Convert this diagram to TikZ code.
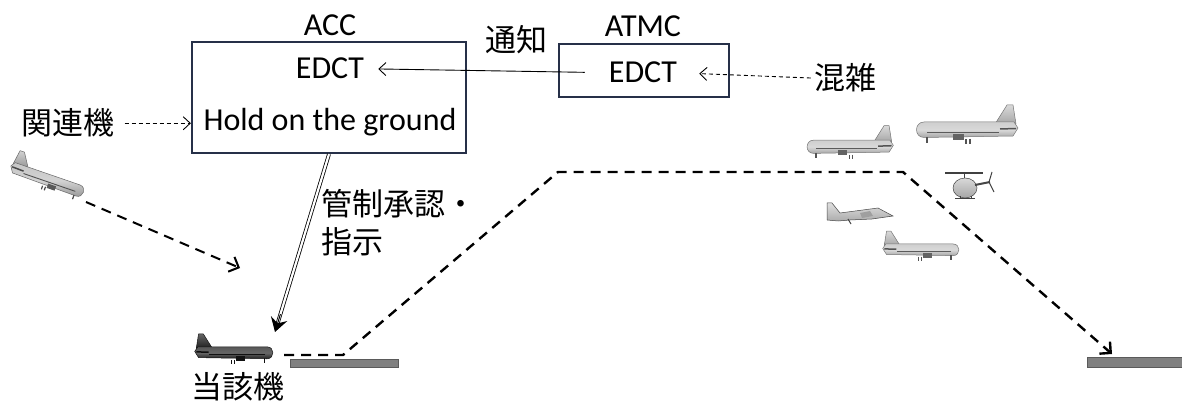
\documentclass[tikz,border=0pt]{standalone}
\usepackage{fontspec}
\setmainfont{Carlito}
\newfontfamily\jp{Noto Sans CJK JP}
\usetikzlibrary{arrows.meta,calc}
\definecolor{boxedge}{RGB}{38,48,72}
\definecolor{rwy}{RGB}{128,128,128}

\tikzset{
  lbl/.style={font=\fontsize{32}{36}\selectfont, inner sep=0pt, anchor=base},
  jlbl/.style={font=\jp\fontsize{31}{37}\selectfont, inner sep=0pt, anchor=base},
  panel/.style={draw=boxedge, line width=2.2pt, inner sep=0pt},
  flow/.style={-{Straight Barb[length=7pt,width=13pt]}, line width=0.9pt},
  dashflow/.style={flow, dash pattern=on 4pt off 3pt},
  route/.style={line width=2.4pt, dash pattern=on 10pt off 7pt,
    -{Straight Barb[length=8pt,width=16pt]}},
  runway/.style={fill=rwy, draw=rwy!70!black, line width=0.6pt},
  % side view of an airliner, nose towards -x, centred on the fuselage
  pics/airliner/.style 2 args={code={
    \colorlet{pltop}{#1}\colorlet{plbot}{#2}
    \path[shading=axis, top color=pltop, bottom color=plbot, draw=plbot!70!black, line width=0.5pt]
      (28,-6) -- (40,-25) -- (46,-25) -- (49,-6) -- cycle;
    \path[shading=axis, top color=pltop!80!plbot, bottom color=plbot, middle color=pltop,
      draw=plbot!70!black, line width=0.5pt]
      (-43,-8) -- (47,-8) -- (51,-2) -- (46,6) -- (-43,7.5)
      .. controls (-53,7.5) and (-53,-8) .. (-43,-8) -- cycle;
    \draw[plbot!55!black, line width=0.9pt] (-40,2) -- (32,2);
    \draw[plbot!50!black, line width=1.5pt] (33,-1) -- (49,-1.5);
    \fill[plbot!60!black] (-14,4) rectangle (-3,10);
    \draw[plbot!50!black, line width=1.2pt] (-40,7) -- (-40,13) (-1,9) -- (-1,14) (3,9) -- (3,14);
  }},
}

\begin{document}
\begin{tikzpicture}[x=1pt,y=-1pt]
\useasboundingbox (0,0) rectangle (1182,403);

% control units
\node[panel, minimum width=274pt, minimum height=111pt] (acc) at (329,97.5) {};
\node[lbl] (acclabel) at (330,36) {ACC};
\node[lbl] (accedct) at (330,79) {EDCT};
\node[lbl] (hold) at (330,131) {Hold on the ground};

\node[panel, minimum width=170pt, minimum height=53pt] (atmc) at (644,70.5) {};
\node[lbl] (atmclabel) at (643,37) {ATMC};
\node[lbl] (atmcedct) at (643,83) {EDCT};

\node[jlbl] (tsuchi) at (516,52) {通知};
\node[jlbl] (konzatsu) at (845,90) {混雑};
\node[jlbl] (kanren) at (68,135) {関連機};
\node[jlbl] (gaitou) at (238,398) {当該機};
\node[jlbl, anchor=base west, align=left] (kansei) at (321,253) {管制承認・\\指示};

% information flow
\draw[flow, shorten <=24pt, shorten >=14pt] (atmcedct.west) -- (accedct.east);
\draw[dashflow, shorten <=3pt, shorten >=22pt] (konzatsu.west) -- (atmcedct.east);
\draw[dashflow, shorten <=10pt] (kanren.east) -- (kanren.east -| acc.west);

% clearance to the aircraft
\coordinate (clr) at (275,332);
\draw[double, double distance=2.2pt, line width=0.8pt, shorten >=8pt] (acc.south) -- (clr);
\draw[line width=1pt, -{Stealth[length=14pt,width=17pt,inset=5pt]}] ($(acc.south)!0.9!(clr)$) -- (clr);

% runways
\path[runway] (290,359) rectangle (398,367);
\path[runway] (1087,357) rectangle (1182,367);

% flight path
\coordinate (dep) at (284,355);
\coordinate (lift) at (343,355);
\coordinate (topL) at (558,172);
\coordinate (topR) at (903,172);
\coordinate (arr) at (1112,354);
\draw[route] (dep) -- (lift) -- (topL) -- (topR) -- (arr);

% related aircraft approaching
\coordinate (relfrom) at (86,202);
\coordinate (relto) at (240,268);
\draw[route, line width=2pt] (relfrom) -- (relto);

% aircraft
\pic[xscale=-0.76, yscale=0.76, rotate=19] at (47,180) {airliner={gray!35}{gray!85}};
\pic[xscale=-0.77, yscale=0.77] at (234,353) {airliner={black!60}{black!88}};
\pic[scale=0.85] at (850,147) {airliner={gray!30}{gray!70}};
\pic[scale=1.0] at (967,130) {airliner={gray!30}{gray!70}};
\pic[xscale=-0.75, yscale=0.75] at (921,250) {airliner={gray!30}{gray!70}};

% swept-wing jet
\path[shading=axis, top color=gray!25, bottom color=gray!65, draw=gray!55!black, line width=0.5pt]
  (827,203) -- (832,203) -- (840,213) -- (878,208) -- (893,216) -- (872,219)
  -- (850,220) -- (838,221) -- (827,220) -- cycle;
\fill[gray!75] (860,213) -- (870,211) -- (873,216) -- (862,218) -- cycle;
\draw[gray!50!black, line width=1pt] (848,219) -- (851,224);

% helicopter
\draw[gray!50!black, line width=1.2pt] (945,173) -- (983,173);
\draw[gray!50!black, line width=1pt] (964,173) -- (964,179);
\path[shading=axis, top color=gray!30, bottom color=gray!70, draw=gray!55!black, line width=0.5pt]
  (965,188) ellipse (12pt and 10pt);
\draw[gray!55!black, line width=2pt] (975,185) -- (990,182);
\draw[gray!50!black, line width=1pt] (992,172) -- (989,182) -- (994,192);
\draw[gray!50!black, line width=1pt] (960,196) -- (960,199) (971,196) -- (971,199) (955,199) -- (975,199);
\end{tikzpicture}
\end{document}
